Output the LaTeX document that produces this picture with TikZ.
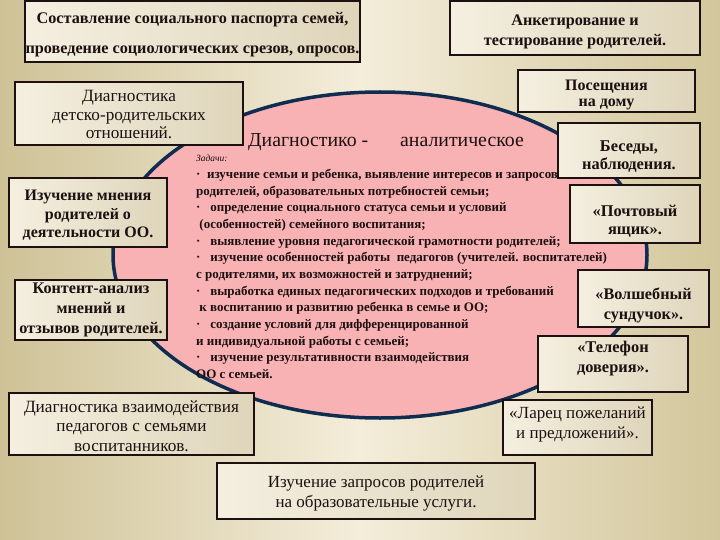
\documentclass[tikz,border=0pt]{standalone}
\usepackage{fontspec}
\setmainfont{Liberation Serif}
\definecolor{bgL}{RGB}{206,194,150}
\definecolor{bgM}{RGB}{244,237,218}
\definecolor{bgR}{RGB}{210,198,155}
\definecolor{boxL}{RGB}{244,239,224}
\definecolor{boxR}{RGB}{222,213,186}
\definecolor{pinkF}{RGB}{248,178,180}
\definecolor{navy}{RGB}{16,44,80}
\definecolor{ink}{RGB}{28,16,16}
\tikzset{
  box/.style={draw=ink, line width=2pt, left color=boxL, right color=boxR, inner sep=0pt},
  txt/.style={inner sep=0pt, align=center, text=ink},
}
\begin{document}
\begin{tikzpicture}[x=1pt,y=-1pt]
\useasboundingbox (0,0) rectangle (720,540);
\shade[left color=bgL, right color=bgR, middle color=bgM] (0,0) rectangle (720,540);
% ellipse
\draw[fill=pinkF, draw=navy, line width=3.5pt] (380,255) ellipse [x radius=267, y radius=163];
\node[anchor=west, font=\fontsize{19.8}{22}\selectfont, text=ink, inner sep=0] (t1) at (248,142) {Диагностико -};
\node[anchor=west, font=\fontsize{19.8}{22}\selectfont, text=ink, inner sep=0] (t2) at (400,142) {аналитическое};
\node[anchor=west, font=\itshape\fontsize{9.5}{10}\selectfont, text=ink, inner sep=0] (zad) at (196,158) {Задачи:};
\node[anchor=north west, align=left, font=\bfseries\fontsize{13}{16.65}\selectfont, text=ink, inner sep=0] (tasks) at (196,169) {%
·\ \ изучение семьи и ребенка, выявление интересов и запросов\\
родителей, образовательных потребностей семьи;\\
·\ \ \ определение социального статуса семьи и условий\\
\ (особенностей) семейного воспитания;\\
·\ \ \ выявление уровня педагогической грамотности родителей;\\
·\ \ \ изучение особенностей работы\ \ педагогов (учителей. воспитателей)\\
с родителями, их возможностей и затруднений;\\
·\ \ \ выработка единых педагогических подходов и требований\\
\ к воспитанию и развитию ребенка в семье и ОО;\\
·\ \ \ создание условий для дифференцированной\\
и индивидуальной работы с семьей;\\
·\ \ \ изучение результативности взаимодействия\\
ОО с семьей.};
% boxes
\node[box, minimum width=335, minimum height=61] (b1) at (192.5,31.5) {};
\node[txt, font=\bfseries\fontsize{16.2}{30}\selectfont] (b1t) at ([yshift=-3pt]b1.center) {Составление социального паспорта семей,\\проведение социологических срезов, опросов.};
\node[box, minimum width=250, minimum height=54] (b2) at (575,28) {};
\node[txt, font=\bfseries\fontsize{16.2}{20}\selectfont] (b2t) at ([yshift=-4pt]b2.center) {Анкетирование и\\тестирование родителей.};
\node[box, minimum width=177, minimum height=42] (b3) at (606.5,91) {};
\node[txt, font=\bfseries\fontsize{16}{16}\selectfont] (b3t) at ([yshift=-4pt]b3.center) {Посещения\\на дому};
\node[box, minimum width=142, minimum height=55] (b4) at (629,150.5) {};
\node[txt, font=\bfseries\fontsize{16.4}{17.5}\selectfont] (b4t) at ([yshift=-6pt]b4.center) {Беседы,\\наблюдения.};
\node[box, minimum width=130, minimum height=58] (b5) at (635,214) {};
\node[txt, font=\bfseries\fontsize{16.4}{18}\selectfont] (b5t) at ([yshift=-7pt]b5.center) {«Почтовый\\ящик».};
\node[box, minimum width=131, minimum height=57] (b6) at (643.5,298.5) {};
\node[txt, font=\bfseries\fontsize{16.2}{20}\selectfont] (b6t) at ([yshift=-7pt]b6.center) {«Волшебный\\сундучок».};
\node[box, minimum width=150, minimum height=56] (b7) at (613,364) {};
\node[txt, font=\bfseries\fontsize{16.4}{20}\selectfont] (b7t) at ([yshift=5pt]b7.center) {«Телефон\\доверия».};
\node[box, minimum width=149, minimum height=55] (b8) at (577.5,427.5) {};
\node[txt, font=\fontsize{17}{20}\selectfont] (b8t) at ([yshift=3.5pt]b8.center) {«Ларец пожеланий\\и предложений».};
\node[box, minimum width=228, minimum height=63] (b9) at (129,113.5) {};
\node[txt, font=\fontsize{17.2}{18.5}\selectfont] (b9t) at ([yshift=-1pt]b9.center) {Диагностика\\детско-родительских\\отношений.};
\node[box, minimum width=158, minimum height=69] (b10) at (88,212.5) {};
\node[txt, font=\bfseries\fontsize{16}{18.5}\selectfont] (b10t) at ([yshift=-3pt]b10.center) {Изучение мнения\\родителей о\\деятельности ОО.};
\node[box, minimum width=152, minimum height=60] (b11) at (91,310) {};
\node[txt, font=\bfseries\fontsize{16.2}{20}\selectfont] (b11t) at (b11.center) {Контент-анализ\\мнений и\\отзывов родителей.};
\node[box, minimum width=245, minimum height=62] (b12) at (131.5,424) {};
\node[txt, font=\fontsize{17.2}{19.5}\selectfont] (b12t) at ([yshift=-2pt]b12.center) {Диагностика взаимодействия\\педагогов с семьями\\воспитанников.};
\node[box, minimum width=318, minimum height=56] (b13) at (376,491) {};
\node[txt, font=\fontsize{17}{20}\selectfont] (b13t) at ([yshift=-3pt]b13.center) {Изучение запросов родителей\\на образовательные услуги.};
\end{tikzpicture}
\end{document}
